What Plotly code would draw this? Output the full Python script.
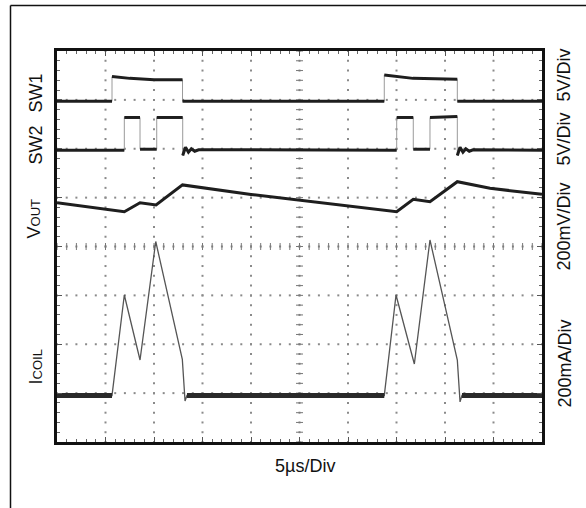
import numpy as np
import plotly.graph_objects as go

# Time axis in microseconds (5 us per division, 10 divisions); levels in screen divisions (0..8)
t_sw1 = [0, 5.67, 5.67, 7.5, 10.0, 12.94, 12.94, 33.74, 33.74, 36.7, 41.27, 41.27, 50]
sw1 = [6.97, 6.97, 7.48, 7.44, 7.41, 7.41, 6.97, 6.97, 7.51, 7.44, 7.42, 6.97, 6.97]

t_sw2 = [0, 6.94, 6.94, 8.56, 8.56, 10.28, 10.28, 12.96, 12.96, 13.25, 13.55, 13.85, 14.2, 14.6,
         35.02, 35.02, 36.73, 36.73, 38.45, 38.45, 41.27, 41.27, 41.55, 41.85, 42.15, 42.5, 42.9, 50]
sw2 = [5.97, 5.97, 6.64, 6.64, 5.99, 5.99, 6.64, 6.64, 5.86, 6.03, 5.93, 6.0, 5.95, 5.98,
       5.97, 6.64, 6.64, 5.99, 5.99, 6.64, 6.66, 5.86, 6.03, 5.93, 6.0, 5.95, 5.98, 5.97]

t_vout = [0, 6.94, 8.56, 10.21, 12.94, 20.0, 35.02, 36.73, 38.45, 41.27, 44.64, 50]
vout = [4.896, 4.712, 4.896, 4.85, 5.26, 5.064, 4.712, 4.966, 4.916, 5.326, 5.19, 5.068]

t_icoil = [0, 5.67, 6.94, 8.56, 10.18, 12.92, 13.2, 13.4, 33.74, 34.95, 36.84, 38.45, 41.27, 41.55, 41.75, 50]
icoil = [0.951, 0.951, 3.008, 1.678, 4.102, 1.692, 0.84, 0.951, 0.951, 3.008, 1.596, 4.133, 1.678, 0.82, 0.951, 0.951]

left_labels = ["SW1", "SW2", "V<span style='font-size:13px'>OUT</span>", "I<span style='font-size:13px'>COIL</span>"]
right_labels = ["5V/Div", "5V/Div", "200mV/Div", "200mA/Div"]
time_label = "5\u00b5s/Div"

FONT = "Liberation Sans, Arial, sans-serif"
TRACE = "#1e1e1e"
EDGE = "#9a9a9a"

# figure geometry in pixels
W, H = 586, 508
L, R, T, B = 57, 44, 51, 66
PW, PH = W - L - R, H - T - B


def px_x(px):
    return (px - L) / PW


def px_y(py):
    return (H - B - py) / PH


def split_segments(x, y, keep):
    """Return x/y with None gaps so only segments where keep(i) is true are drawn."""
    xs, ys = [], []
    for i in range(len(x) - 1):
        if keep(x, y, i):
            if xs and xs[-1] is not None and xs[-1] == x[i] and ys[-1] == y[i]:
                xs.append(x[i + 1]); ys.append(y[i + 1])
            else:
                if xs:
                    xs.append(None); ys.append(None)
                xs += [x[i], x[i + 1]]; ys += [y[i], y[i + 1]]
    return xs, ys


not_vertical = lambda x, y, i: x[i] != x[i + 1]
flat = lambda x, y, i: y[i] == y[i + 1]

fig = go.Figure()

# graticule: dotted division lines
gx, gy = [], []
for k in range(1, 10):
    for v in np.arange(0, 8.001, 0.2):
        gx.append(k * 5); gy.append(v)
for k in range(1, 8):
    for v in np.arange(0, 50.001, 1.0):
        gx.append(v); gy.append(k)
fig.add_trace(go.Scatter(x=gx, y=gy, mode="markers", hoverinfo="skip",
                         marker=dict(symbol="square", size=2, color="#8a8a8a", line=dict(width=0))))

# centre cross-hair ticks
cx = list(np.arange(0, 50.001, 1.0))
fig.add_trace(go.Scatter(x=cx, y=[4] * len(cx), mode="markers", hoverinfo="skip",
                         marker=dict(symbol="line-ns", size=5, line=dict(width=1, color="#777"))))
cy = list(np.arange(0, 8.001, 0.2))
fig.add_trace(go.Scatter(x=[25] * len(cy), y=cy, mode="markers", hoverinfo="skip",
                         marker=dict(symbol="line-ew", size=5, line=dict(width=1, color="#777"))))

# switching waveforms: faint edges, heavy levels
for tt, vv in [(t_sw1, sw1), (t_sw2, sw2)]:
    fig.add_trace(go.Scatter(x=tt, y=vv, mode="lines", hoverinfo="skip",
                             line=dict(color=EDGE, width=1)))
    hx, hy = split_segments(tt, vv, not_vertical)
    fig.add_trace(go.Scatter(x=hx, y=hy, mode="lines", hoverinfo="skip", connectgaps=False,
                             line=dict(color=TRACE, width=3)))

# output voltage
fig.add_trace(go.Scatter(x=t_vout, y=vout, mode="lines", hoverinfo="skip",
                         line=dict(color=TRACE, width=3)))

# coil current: thin ramps, noisy thick baseline
fig.add_trace(go.Scatter(x=t_icoil, y=icoil, mode="lines", hoverinfo="skip",
                         line=dict(color="#555", width=1.3)))
bx, by = split_segments(t_icoil, icoil, flat)
fig.add_trace(go.Scatter(x=bx, y=by, mode="lines", hoverinfo="skip", connectgaps=False,
                         line=dict(color="#2a2a2a", width=5)))

axis_common = dict(showgrid=False, zeroline=False, showticklabels=False,
                   showline=True, linewidth=2.5, linecolor="#111", mirror="ticks",
                   ticks="inside", ticklen=5, tickwidth=1, tickcolor="#555")
fig.update_xaxes(range=[0, 50], dtick=5, tick0=0,
                 minor=dict(ticks="inside", dtick=1, ticklen=3, tickwidth=1, tickcolor="#666"),
                 **axis_common)
fig.update_yaxes(range=[0, 8], dtick=1, tick0=0,
                 minor=dict(ticks="inside", dtick=0.2, ticklen=3, tickwidth=1, tickcolor="#666"),
                 **axis_common)

side_font = dict(family=FONT, size=18, color="#111")
annotations = []
left_pos = [(35, 93.5), (35, 145.5), (33, 218.5), (35, 367.5)]
for txt, (px, py) in zip(left_labels, left_pos):
    annotations.append(dict(text=txt, x=px_x(px), y=px_y(py), xref="paper", yref="paper",
                            xanchor="center", yanchor="middle", textangle=-90, showarrow=False,
                            font=side_font))
right_pos = [(563, 75.5), (563, 139.5), (563, 226.5), (564, 363.5)]
for txt, (px, py) in zip(right_labels, right_pos):
    annotations.append(dict(text=txt, x=px_x(px), y=px_y(py), xref="paper", yref="paper",
                            xanchor="center", yanchor="middle", textangle=-90, showarrow=False,
                            font=side_font))
annotations.append(dict(text=time_label, x=px_x(305), y=px_y(466), xref="paper", yref="paper",
                        xanchor="center", yanchor="middle", showarrow=False,
                        font=dict(family=FONT, size=18, color="#111")))

# outer figure frame (left and top edges)
frame = [
    dict(type="line", xref="paper", yref="paper", x0=px_x(10.5), x1=px_x(10.5), y0=px_y(5.5), y1=px_y(515),
         line=dict(color="#111", width=1.5)),
    dict(type="line", xref="paper", yref="paper", x0=px_x(10.5), x1=px_x(595), y0=px_y(5.5), y1=px_y(5.5),
         line=dict(color="#111", width=1.5)),
]

fig.update_layout(width=W, height=H, autosize=False,
                  margin=dict(l=L, r=R, t=T, b=B),
                  paper_bgcolor="white", plot_bgcolor="white",
                  showlegend=False, annotations=annotations, shapes=frame)

fig.write_html("out.html")
